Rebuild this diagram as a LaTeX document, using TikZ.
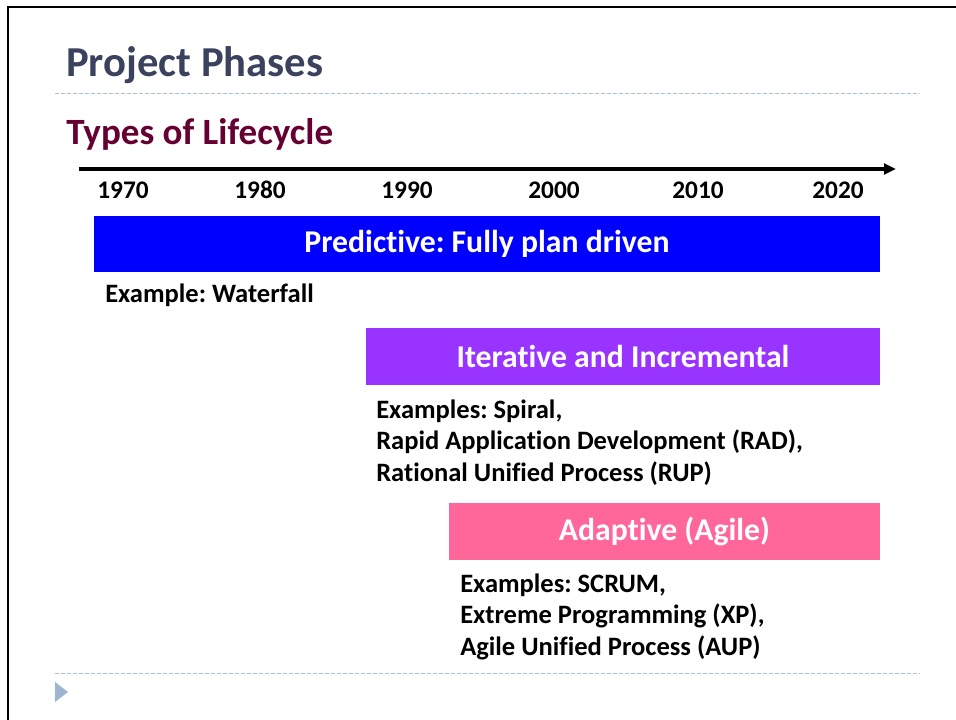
\documentclass[tikz,border=0pt]{standalone}
\usepackage{fontspec}
\setmainfont{Carlito}[Ligatures={NoCommon}]
\frenchspacing
\usetikzlibrary{arrows.meta}
\definecolor{titlegray}{RGB}{59,66,94}
\definecolor{lifemaroon}{RGB}{102,0,51}
\definecolor{seplines}{RGB}{170,192,216}
\definecolor{markgray}{RGB}{157,181,206}
\definecolor{predblue}{RGB}{0,0,255}
\definecolor{iterpurple}{RGB}{153,51,255}
\definecolor{agilepink}{RGB}{255,102,153}

\begin{document}
\begin{tikzpicture}[x=0.75pt,y=-0.75pt,
  yeartxt/.style={anchor=base,inner sep=0pt,font=\fontsize{19}{22}\selectfont\bfseries},
  phase/.style={minimum height=42.5pt,inner sep=0pt,text=white,font=\fontsize{23.8}{28}\selectfont\bfseries},
  extxt/.style={anchor=base west,align=left,inner sep=0pt,font=\fontsize{19.9}{23.6}\selectfont\bfseries},
  sepline/.style={draw=seplines,line width=0.75pt,dash pattern=on 3pt off 1.5pt}]
  \useasboundingbox (0,0) rectangle (956,720);
  \draw[line width=2pt] (8,720) -- (8,7) -- (956,7);

  % headings
  \node[anchor=base west,inner sep=0pt,text=titlegray,font=\fontsize{32}{36}\selectfont\bfseries] (title) at (66,77) {Project Phases};
  \draw[sepline] (55,94) -- (920,94);
  \node[anchor=base west,inner sep=0pt,text=lifemaroon,font=\fontsize{27.8}{32}\selectfont\bfseries] (types) at (66,145) {Types of Lifecycle};

  % time axis
  \coordinate (tl0) at (79,169);
  \coordinate (tl1) at (896,169);
  \draw[line width=3pt,-{Triangle[length=9pt,width=8pt]}] (tl0) -- (tl1);
  \foreach \yr/\xx in {1970/123,1980/260,1990/407,2000/554,2010/698,2020/838}
    \node[yeartxt] (y\yr) at (\xx,199) {\yr};

  % lifecycles (base of multi-line text = its last line)
  \node[phase,fill=predblue,minimum width=589.5pt] (pred) at (487,244) {Predictive: Fully plan driven};
  \node[extxt] (predex) at (105,302) {Example: Waterfall};

  \node[phase,fill=iterpurple,minimum width=385.5pt] (iter) at (623,356.5) {Iterative and Incremental};
  \node[extxt] (iterex) at (376,481) {Examples: Spiral,\\Rapid Application Development (RAD),\\Rational Unified Process (RUP)};

  \node[phase,fill=agilepink,minimum width=323.25pt] (agile) at (664.5,531.5) {Adaptive (Agile)};
  \node[extxt] (agileex) at (460,655) {Examples: SCRUM,\\Extreme Programming (XP),\\Agile Unified Process (AUP)};

  \draw[sepline] (55,673) -- (920,673);
  \fill[markgray] (55,682) -- (68,692) -- (55,702) -- cycle;
\end{tikzpicture}
\end{document}
